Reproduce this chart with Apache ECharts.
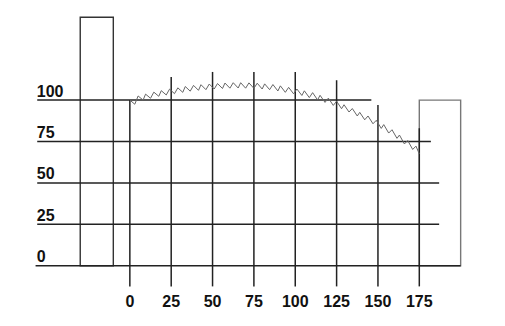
<!DOCTYPE html>
<html>
<head>
<meta charset="utf-8">
<script src="https://cdn.jsdelivr.net/npm/echarts@6/dist/echarts.min.js"></script>
<style>
html,body{margin:0;padding:0;background:#fff;}
#chart{width:505px;height:326px;}
</style>
</head>
<body>
<div id="chart"></div>
<script>
// ---- data ----
const xTicks = [0, 25, 50, 75, 100, 125, 150, 175];
const xTickLabels = ['0', '25', '50', '75', '100', '125', '150', '175'];
const yTicks = [0, 25, 50, 75, 100];
const yTickLabels = ['0', '25', '50', '75', '100'];

// horizontal reference lines: level, start, end (data units)
const hLevels = [0, 25, 50, 75, 100];
const hStart = [-57, -56, -56, -56, -56];
const hEnd = [200, 187, 187, 182, 146];

// vertical reference lines: top value for each x tick, common bottom
const vTop = [100, 114, 117, 117, 117, 112, 97, 83];
const vBottom = -12.5;

// two boxes: [xFrom, xTo, height]
const leftBox = [-30, -10, 150];
const rightBox = [175, 200, 100];

// sawtooth curve
const curveX = [0, 3, 5, 8, 9.5, 12.5, 14.5, 17.5, 19, 22, 24, 27, 29, 32, 33.5, 36.5, 38.5, 41.5, 43, 46,
  48, 51, 53, 56, 57.5, 60.5, 62.5, 65.5, 67, 70, 72, 75, 77, 80, 81.5, 84.5, 86.5, 89.5, 91, 94,
  96, 99, 101, 104, 105.5, 108.5, 110.5, 113.5, 115, 118, 120, 123, 125, 128, 129.5, 132.5, 134.5, 137.5, 139, 142,
  144, 147, 149, 152, 153.5, 156.5, 158.5, 161.5, 163, 166, 168, 171, 173, 175];
const curveY = [100, 97.5, 102.5, 100, 103.6, 101.1, 104.8, 102.3, 105.7, 103.1, 106.6, 103.9, 107.4, 104.7, 108.2, 105.4, 108.9, 105.9, 109.3, 106.3,
  109.7, 106.7, 110, 107, 110.3, 107.2, 110.5, 107.3, 110.5, 107.2, 110.4, 107.1, 110.2, 106.7, 109.8, 106.3, 109.4, 105.5, 108.6, 104.7,
  107.7, 103.8, 106.7, 102.8, 105.6, 101.5, 104.5, 100.1, 102.9, 98.6, 101.2, 96.8, 99.3, 94.8, 97.2, 92.8, 94.9, 90.4, 92.6, 88.1,
  90.4, 85.7, 87.8, 82.9, 85.2, 80.1, 82.1, 76.9, 78.9, 73.5, 75.6, 70.2, 72.2, 67.5];

// ---- chart ----
const chart = echarts.init(document.getElementById('chart'), null, {renderer: 'svg'});
const FONT = '"Liberation Sans", Arial, sans-serif';

function lineItem(x0, y0, x1, y1, api, color, width) {
  const a = api.coord([x0, y0]);
  const b = api.coord([x1, y1]);
  return {type: 'line', shape: {x1: a[0], y1: a[1], x2: b[0], y2: b[1]},
    style: {stroke: color, lineWidth: width}};
}

function boxItem(box, api, color) {
  const a = api.coord([box[0], box[2]]);
  const b = api.coord([box[1], 0]);
  return {type: 'rect', shape: {x: a[0], y: a[1], width: b[0] - a[0], height: b[1] - a[1]},
    style: {fill: 'none', stroke: color, lineWidth: 1.4}};
}

chart.setOption({
  animation: false,
  backgroundColor: '#ffffff',
  grid: {left: 5.8, right: 2.4, top: 17.3, bottom: 18.9, containLabel: false},
  xAxis: {
    type: 'value', min: -75, max: 225, interval: 25,
    axisLine: {show: false}, axisTick: {show: false}, splitLine: {show: false},
    axisLabel: {
      inside: true, margin: 6, verticalAlign: 'middle',
      color: '#111', fontSize: 16, fontWeight: 'bold', fontFamily: FONT,
      formatter: function (v) {
        const i = xTicks.indexOf(v);
        return i >= 0 ? xTickLabels[i] : '';
      }
    }
  },
  yAxis: {
    type: 'value', min: -25, max: 150, interval: 25,
    axisLine: {show: false}, axisTick: {show: false}, splitLine: {show: false},
    axisLabel: {
      align: 'left', margin: -31, verticalAlign: 'bottom', padding: [0, 0, 1, 0],
      color: '#111', fontSize: 16, fontWeight: 'bold', fontFamily: FONT,
      formatter: function (v) {
        const i = yTicks.indexOf(v);
        return i >= 0 ? yTickLabels[i] : '';
      }
    }
  },
  series: [
    {
      type: 'custom', z: 1, silent: true,
      data: [rightBox],
      renderItem: function (params, api) {
        return boxItem(rightBox, api, '#777');
      }
    },
    {
      type: 'custom', z: 2, silent: true,
      data: [leftBox],
      renderItem: function (params, api) {
        return boxItem(leftBox, api, '#333');
      }
    },
    {
      type: 'custom', z: 3, silent: true,
      data: hLevels.map(function (y, i) { return [hStart[i], hEnd[i], y]; }),
      renderItem: function (params, api) {
        return lineItem(api.value(0), api.value(2), api.value(1), api.value(2), api, '#222', 1.5);
      }
    },
    {
      type: 'custom', z: 3, silent: true,
      data: xTicks.map(function (x, i) { return [x, vBottom, vTop[i]]; }),
      renderItem: function (params, api) {
        return lineItem(api.value(0), api.value(1), api.value(0), api.value(2), api, '#222', 1.5);
      }
    },
    {
      type: 'line', z: 4, silent: true,
      data: curveX.map(function (x, i) { return [x, curveY[i]]; }),
      showSymbol: false, symbol: 'none',
      lineStyle: {color: '#666', width: 1}
    }
  ]
});
</script>
</body>
</html>
